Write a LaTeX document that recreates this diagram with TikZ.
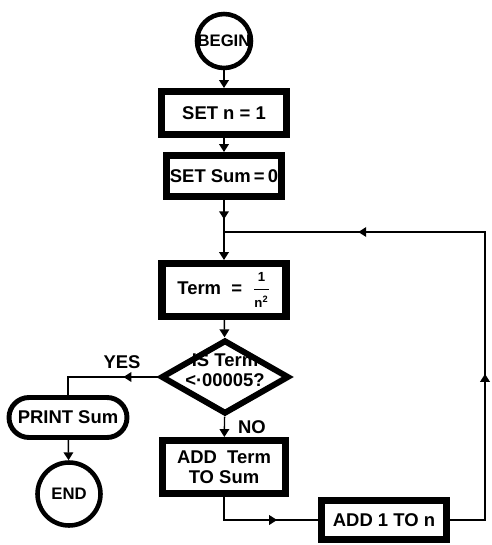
\documentclass[tikz,border=0pt]{standalone}
\usepackage{amsmath}
\usepackage{fontspec}
\setmainfont{Liberation Sans}
\usetikzlibrary{arrows.meta,positioning,calc,shapes.geometric,shapes.misc,decorations.markings}

\begin{document}
\begin{tikzpicture}[
  x=0.02cm,y=-0.02cm,
  every node/.append style={font=\bfseries\fontsize{10.5}{11.5}\selectfont},
  stepbox/.style={
    draw,
    rectangle,
    line width=4pt,
    inner sep=0pt,
    align=center
  },
  termcircle/.style={draw,circle,line width=2.6pt,inner sep=0pt,
    font=\bfseries\fontsize{9.5}{11}\selectfont},
  testbox/.style={draw,diamond,line width=3.4pt,inner sep=0pt},
  outbox/.style={draw,rounded rectangle,line width=2.8pt,inner sep=0pt},
  link/.style={line width=0.8pt},
  flow/.style={link,-{Triangle[length=4.5pt,width=5.5pt]}},
  midtip/.style={
    postaction={decorate},
    decoration={markings,mark=at position #1 with {\arrow{Triangle[length=4.5pt,width=5.5pt]}}}
  },
  twotips/.style 2 args={
    postaction={decorate},
    decoration={markings,
      mark=at position #1 with {\arrow{Triangle[length=4.5pt,width=5.5pt]}},
      mark=at position #2 with {\arrow{Triangle[length=4.5pt,width=5.5pt]}}}
  }
]
\useasboundingbox (0,0) rectangle (492,545);

% main column
\node[termcircle,minimum size=1.08cm] (start) at (224,41) {\makebox[0pt]{BEGIN}};
\node[stepbox,minimum width=2.5cm,minimum height=0.86cm] (setn) at (224,113) {SET n = 1};
\node[stepbox,minimum width=2.3cm,minimum height=0.82cm] (setsum) at (224,176) {SET Sum\,=\,0};
\coordinate (loop) at (224,232);
\node[stepbox,minimum width=2.48cm,minimum height=1.06cm] (term) at (224,290)
  {Term\ \ =\ \ $\dfrac{\text{\fontsize{7.5}{8}\selectfont 1}}{\text{\fontsize{7.5}{8}\selectfont n\textsuperscript{2}}}$};
\node[testbox,minimum width=2.56cm,minimum height=1.48cm] (test) at (225,377)
  {\makebox[0pt]{\smash{\begin{tabular}{@{}c@{}}IS Term\\<·00005?\end{tabular}}}};
\node[stepbox,minimum width=2.46cm,minimum height=1.06cm] (addterm) at (224,467) {ADD\ \ Term\\TO Sum};
\node[stepbox,minimum width=2.5cm,minimum height=0.78cm] (addone) at (384,520) {ADD 1 TO n};

% output branch
\node[outbox,minimum width=2.36cm,minimum height=0.8cm] (print) at (68,417.5) {PRINT Sum};
\node[termcircle,minimum size=1.26cm] (stop) at (69,494) {END};

\coordinate (rise) at (485,232);

\draw[flow] (start) -- (setn);
\draw[flow] (setn) -- (setsum);
\draw[link,midtip=0.6] (setsum) -- (loop);
\draw[flow] (loop) -- (term);
\draw[flow] (term) -- (test);
\draw[flow] (test) -- node[right,xshift=4pt]{NO} (addterm);
\draw[link,midtip=0.32] (test.west) -| node[above,pos=0.2,yshift=1pt]{YES} (print.north);
\draw[flow] (print) -- (stop);
\draw[link,midtip=0.65] (addterm.south) |- (addone.west);
\draw[link,twotips={0.31}{0.77}] (addone.east) -| (rise) -- (loop);
\end{tikzpicture}
\end{document}
